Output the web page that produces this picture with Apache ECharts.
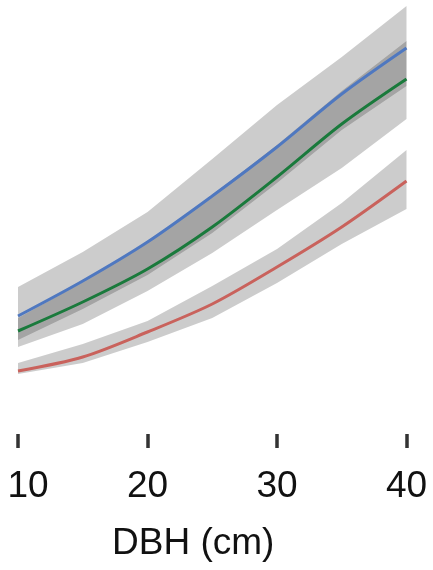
<!DOCTYPE html>
<html lang="en">
<head>
    <meta charset="UTF-8">
    <title>DBH</title>
    <script src="https://cdn.jsdelivr.net/npm/echarts@6/dist/echarts.min.js"></script>
    <style>
        html, body { margin: 0; padding: 0; background: #fff; }
    </style>
</head>
<body>
<div id="main" style="width: 433px;height:570px;"></div>
<script>
    // DBH (cm)
    let dbh = [10, 15, 20, 25, 30, 35, 40];
    // 三条曲线 (任意单位)
    let blueLine = [118, 153, 192, 238, 287, 340, 386];
    let greenLine = [103, 132, 165, 207, 257, 310, 355];
    let redLine = [63, 77, 102, 130, 167, 207, 253];
    // 置信带
    let blueUpper = [147, 182, 222, 275, 329, 377, 428];
    let blueLower = [94, 125, 159, 201, 251, 304, 348];
    let greenUpper = [116, 152, 192, 239, 289, 343, 393];
    let greenLower = [87, 110, 143, 181, 224, 266, 315];
    let redUpper = [71, 90, 113, 148, 185, 231, 284];
    let redLower = [60, 71, 92, 116, 151, 190, 225];
    let xTicks = [10, 20, 30, 40];

    function pairs(ys) {
        return dbh.map(function (x, i) { return [x, ys[i]]; });
    }

    //置信带: 多边形, 坐标由坐标轴换算
    function band(name, lower, upper) {
        return {
            name: name + '_band', type: 'custom', silent: true, z: 1,
            data: [[dbh[0], lower[0]]],
            renderItem: function (params, api) {
                let pts = [];
                for (let i = 0; i < dbh.length; i++) {
                    pts.push(api.coord([dbh[i], upper[i]]));
                }
                for (let i = dbh.length - 1; i >= 0; i--) {
                    pts.push(api.coord([dbh[i], lower[i]]));
                }
                return {
                    type: 'polygon',
                    shape: {points: pts},
                    style: {fill: 'rgba(0,0,0,0.2)'}
                };
            }
        };
    }

    function line(name, ys, color) {
        return {
            name: name, type: 'line', data: pairs(ys), symbol: 'none', smooth: 0.3,
            lineStyle: {color: color, width: 3}, z: 5
        };
    }

    let chart = echarts.init(document.getElementById('main'));
    let option = {
        animation: false,
        grid: {left: 18, right: 26.5, top: 0, bottom: 136, containLabel: false},
        xAxis: {
            type: 'value', min: 10, max: 40, interval: 10,
            name: 'DBH (cm)', nameLocation: 'middle', nameGap: 91,
            nameTextStyle: {fontFamily: 'Liberation Sans', fontSize: 37, color: '#111', padding: [0, 38, 0, 0]},
            axisLine: {show: false},
            splitLine: {show: false},
            axisTick: {show: true, length: 14, lineStyle: {color: '#333', width: 3.5}},
            axisLabel: {
                margin: 34, fontFamily: 'Liberation Sans', fontSize: 37, color: '#111',
                formatter: function (v) { return v === xTicks[0] ? '{m|' + v + '}' : String(v); },
                rich: {m: {fontFamily: 'Liberation Sans', fontSize: 37, color: '#111', padding: [0, 0, 0, 20]}}
            }
        },
        yAxis: {type: 'value', min: 0, max: 434, show: false},
        series: [
            band('blue', blueLower, blueUpper),
            band('green', greenLower, greenUpper),
            band('red', redLower, redUpper),
            line('red', redLine, '#c9625c'),
            line('green', greenLine, '#1a7a3c'),
            line('blue', blueLine, '#4f78c0')
        ]
    };
    chart.setOption(option);
</script>
</body>
</html>
